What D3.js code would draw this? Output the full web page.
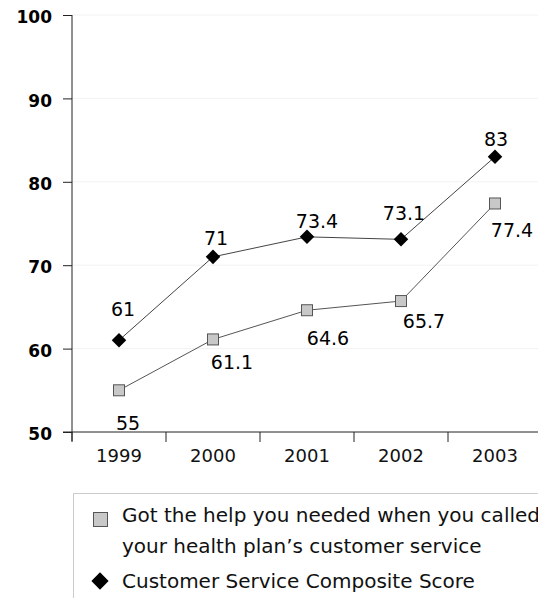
<!DOCTYPE html>
<html>
<head>
<meta charset="utf-8">
<script src="https://cdn.jsdelivr.net/npm/d3@7"></script>
<style>
  body { margin: 0; background: #fff; }
  svg { display: block; }
</style>
</head>
<body>
<div id="chart"></div>
<script>
const years = ["1999", "2000", "2001", "2002", "2003"];
const gotHelp = [55, 61.1, 64.6, 65.7, 77.4];
const composite = [61, 71, 73.4, 73.1, 83];
const yTicks = [50, 60, 70, 80, 90, 100];
const legendLabels = [
    ["Got the help you needed when you called", "your health plan\u2019s customer service"],
    ["Customer Service Composite Score"]
];

// label offsets (px) relative to each point, as placed in the original
const helpLabelOffset = [[9, 33], [19, 23], [21, 28], [23, 20], [17, 27]];
const compLabelOffset = [[4, -31], [3, -19], [10, -15], [3, -26], [1, -17]];

const width = 538, height = 598;
const svg = d3.select("#chart").append("svg")
    .attr("width", width)
    .attr("height", height);

const x = d3.scaleBand().domain(years).range([72, 542]).padding(0);
const y = d3.scaleLinear().domain([50, 100]).range([432, 15]);
const cx = d => x(d) + x.bandwidth() / 2;

// faint gridlines
svg.selectAll("line.grid")
    .data(yTicks.filter(t => t > 50))
    .enter().append("line")
    .attr("x1", 72).attr("x2", width)
    .attr("y1", d => y(d)).attr("y2", d => y(d))
    .attr("stroke", "#f2f2f2");

// y axis
const yAxis = d3.axisLeft(y).tickValues(yTicks).tickSize(9).tickPadding(11);
const gy = svg.append("g").attr("transform", "translate(72,0)").call(yAxis);
gy.select(".domain").attr("d", "M0,15V441").attr("stroke", "#222");
gy.selectAll(".tick line").attr("stroke", "#222");
gy.selectAll("text")
    .attr("font-family", "DejaVu Sans")
    .attr("font-weight", "bold")
    .attr("font-size", "17px")
    .attr("fill", "#000")
    .attr("dy", "0.45em");

// x axis
const gx = svg.append("g").attr("transform", "translate(0,432)");
gx.append("line").attr("x1", 63).attr("x2", width).attr("stroke", "#222");
gx.selectAll("line.tk")
    .data(years)
    .enter().append("line")
    .attr("class", "tk")
    .attr("x1", d => x(d)).attr("x2", d => x(d))
    .attr("y1", 0).attr("y2", 10)
    .attr("stroke", "#222");
gx.selectAll("text")
    .data(years)
    .enter().append("text")
    .attr("x", d => cx(d))
    .attr("y", 30)
    .attr("text-anchor", "middle")
    .attr("font-family", "DejaVu Sans")
    .attr("font-size", "18px")
    .attr("fill", "#111")
    .text(d => d);

const line = d3.line().x((d, i) => cx(years[i])).y(d => y(d));

// lines
svg.append("path").datum(gotHelp)
    .attr("d", line).attr("fill", "none")
    .attr("stroke", "#555").attr("stroke-width", 1);
svg.append("path").datum(composite)
    .attr("d", line).attr("fill", "none")
    .attr("stroke", "#444").attr("stroke-width", 1);

// markers
svg.selectAll("rect.help")
    .data(gotHelp)
    .enter().append("rect")
    .attr("class", "help")
    .attr("x", (d, i) => cx(years[i]) - 5.5)
    .attr("y", d => y(d) - 5.5)
    .attr("width", 11).attr("height", 11)
    .attr("fill", "#c8c8c8")
    .attr("stroke", "#555");

const diamond = d3.symbol().type(d3.symbolDiamond2).size(135);
svg.selectAll("path.comp")
    .data(composite)
    .enter().append("path")
    .attr("class", "comp")
    .attr("d", diamond)
    .attr("transform", (d, i) => `translate(${cx(years[i])},${y(d)})`)
    .attr("fill", "#000");

// value labels
function labels(data, offs, cls) {
    svg.selectAll("text." + cls)
        .data(data)
        .enter().append("text")
        .attr("class", cls)
        .attr("x", (d, i) => cx(years[i]) + offs[i][0])
        .attr("y", (d, i) => y(d) + offs[i][1])
        .attr("dy", "0.35em")
        .attr("text-anchor", "middle")
        .attr("font-family", "DejaVu Sans")
        .attr("font-size", "19px")
        .attr("fill", "#000")
        .text(d => d);
}
labels(gotHelp, helpLabelOffset, "hl");
labels(composite, compLabelOffset, "cl");

// legend
const lg = svg.append("g");
lg.append("rect")
    .attr("x", 73.5).attr("y", 493.5)
    .attr("width", 500).attr("height", 120)
    .attr("fill", "none").attr("stroke", "#ccc");
lg.append("rect")
    .attr("x", 93.5).attr("y", 512.5).attr("width", 14).attr("height", 14)
    .attr("fill", "#c8c8c8").attr("stroke", "#555");
lg.append("path")
    .attr("d", d3.symbol().type(d3.symbolDiamond2).size(190))
    .attr("transform", "translate(100,581)")
    .attr("fill", "#000");
const legendY = [[522, 553], [588]];
legendLabels.forEach((lines, k) => {
    lines.forEach((t, j) => {
        lg.append("text")
            .attr("x", 122)
            .attr("y", legendY[k][j])
            .attr("font-family", "DejaVu Sans")
            .attr("font-size", "20px")
            .attr("fill", "#111")
            .text(t);
    });
});
</script>
</body>
</html>
